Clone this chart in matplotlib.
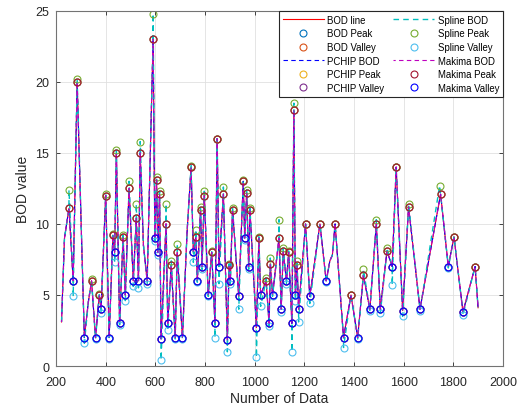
import numpy as np
import pandas as pd
import matplotlib
matplotlib.use("Agg")
import matplotlib.pyplot as plt

plt.rcParams["font.family"] = ["Liberation Sans", "DejaVu Sans"]

# BOD samples (index of data, BOD value)
bod_x = [222, 234, 252, 269, 285, 314, 330, 343, 359, 374, 381, 400, 414, 429,
         436, 443, 456, 470, 479, 494, 511, 523, 532, 539, 552, 567, 591, 598,
         605, 610, 617, 623, 643, 650, 664, 680, 688, 709, 728, 744, 753, 763,
         769, 782, 788, 797, 813, 827, 840, 849, 856, 874, 890, 897, 902, 911,
         936, 954, 960, 968, 976, 981, 1007, 1017, 1024, 1046, 1058, 1063, 1072,
         1098, 1107, 1115, 1128, 1137, 1150, 1158, 1164, 1171, 1177, 1205, 1222,
         1263, 1288, 1303, 1313, 1324, 1358, 1388, 1415, 1438, 1464, 1490, 1506,
         1533, 1554, 1570, 1596, 1620, 1666, 1749, 1780, 1803, 1839, 1888, 1900]
bod_y = [3.1, 9.0, 11.1, 6.0, 20.0, 2.0, 4.5, 6.0, 2.0, 5.0, 4.0, 12.0, 2.0, 9.2,
         8.0, 15.0, 3.0, 9.1, 5.0, 12.5, 6.0, 10.4, 6.0, 15.0, 8.5, 6.0, 23.0, 9.0,
         13.1, 8.0, 12.1, 1.9, 10.0, 3.0, 7.1, 2.0, 8.0, 2.0, 9.5, 14.0, 8.0, 9.1,
         6.0, 11.0, 7.0, 12.0, 5.0, 8.0, 3.0, 16.0, 7.0, 12.1, 1.8, 7.1, 6.0, 11.0,
         4.9, 13.0, 9.0, 12.2, 7.0, 11.0, 2.7, 9.0, 5.0, 6.0, 3.0, 7.2, 5.0,
         9.0, 4.0, 8.1, 6.0, 8.0, 3.0, 18.0, 5.0, 7.1, 4.0, 10.0, 4.9,
         10.0, 6.0, 7.4, 7.8, 10.0, 2.0, 5.0, 2.0, 6.4, 4.0, 10.0, 4.0,
         8.1, 7.0, 14.0, 3.9, 11.2, 4.0, 12.1, 7.0, 9.1, 3.8, 7.0, 4.1]

# extrema of the cubic spline fit
spline_peak_x = [252, 285, 343, 374, 400, 429, 443, 470, 494, 523, 539, 591, 605,
                 617, 643, 664, 688, 744, 763, 782, 797, 827, 849, 874, 897, 911,
                 954, 968, 981, 1017, 1046, 1063, 1098, 1115, 1137, 1158, 1171,
                 1205, 1263, 1324, 1388, 1438, 1490, 1533, 1570, 1620, 1745, 1803,
                 1888]
spline_peak_y = [12.4, 20.2, 6.1, 5.1, 12.1, 9.3, 15.2, 9.2, 13.0, 11.4, 15.8, 24.8,
                 13.3, 12.3, 11.4, 7.4, 8.6, 14.1, 9.6, 11.2, 12.3, 8.1, 16.0, 12.6,
                 7.2, 11.1, 13.1, 12.4, 11.1, 9.1, 6.2, 7.6, 10.3, 8.3, 8.1, 18.5,
                 7.4, 10.0, 10.0, 10.0, 5.0, 6.8, 10.3, 8.3, 14.0, 11.4, 12.7, 9.1,
                 7.0]
spline_valley_x = [269, 314, 359, 381, 414, 436, 456, 479, 511, 532, 567, 598, 610,
                   623, 650, 680, 709, 753, 769, 788, 813, 840, 856, 890, 902, 936,
                   960, 976, 1007, 1024, 1058, 1072, 1107, 1128, 1150, 1164, 1177,
                   1222, 1288, 1358, 1415, 1464, 1506, 1554, 1596, 1666, 1780, 1839]
spline_valley_y = [4.9, 1.6, 1.9, 3.7, 1.9, 7.3, 2.9, 4.6, 5.6, 5.5, 5.8, 8.8, 7.8,
                   0.4, 2.5, 1.9, 1.9, 7.3, 5.9, 6.8, 4.9, 2.0, 5.8, 1.0, 5.8, 4.0,
                   8.9, 6.8, 0.6, 4.2, 2.8, 4.9, 3.8, 5.8, 1.0, 4.6, 3.1,
                   4.4, 5.9, 1.3, 1.9, 3.9, 3.7, 5.7, 3.5, 3.9, 6.9, 3.6]

x = np.array(bod_x, dtype=float)
y = np.array(bod_y, dtype=float)

# local peaks / valleys of the BOD series (end points excluded)
mid = np.arange(1, len(y) - 1)
pk = mid[(y[mid] > y[mid - 1]) & (y[mid] > y[mid + 1])]
vl = mid[(y[mid] < y[mid - 1]) & (y[mid] < y[mid + 1])]

# spline curve runs through the samples and its own overshooting extrema
sp = pd.concat([
    pd.DataFrame({"x": x, "y": y}),
    pd.DataFrame({"x": spline_peak_x, "y": spline_peak_y}),
    pd.DataFrame({"x": spline_valley_x, "y": spline_valley_y}),
]).drop_duplicates().sort_values("x", kind="stable")

c_blue = (0, 0.447, 0.741)
c_orange = (0.85, 0.325, 0.098)
c_yellow = (0.929, 0.694, 0.125)
c_purple = (0.494, 0.184, 0.556)
c_green = (0.466, 0.674, 0.188)
c_lblue = (0.301, 0.745, 0.933)
c_dred = (0.635, 0.078, 0.184)
dark = (0.15, 0.15, 0.15)

mk = dict(linestyle="none", marker="o", markersize=5, markerfacecolor="none",
          markeredgewidth=0.8)
lw = 0.8

fig = plt.figure(figsize=(5.19, 4.14), dpi=100)
ax = fig.add_axes([0.108, 0.1135, 0.861, 0.858])

ax.plot(x, y, color="r", lw=lw, label="BOD line")
ax.plot(x[pk], y[pk], color=c_blue, label="BOD Peak", **mk)
ax.plot(x[vl], y[vl], color=c_orange, label="BOD Valley", **mk)
ax.plot(x, y, color="b", lw=lw, ls=(0, (4, 3)), label="PCHIP BOD")
ax.plot(x[pk], y[pk], color=c_yellow, label="PCHIP Peak", **mk)
ax.plot(x[vl], y[vl], color=c_purple, label="PCHIP Valley", **mk)
ax.plot(sp["x"], sp["y"], color="c", lw=lw + 0.2, ls=(0, (4, 3)), label="Spline BOD")
ax.plot(spline_peak_x, spline_peak_y, color=c_green, label="Spline Peak", **mk)
ax.plot(spline_valley_x, spline_valley_y, color=c_lblue, label="Spline Valley", **mk)
ax.plot(x, y, color="m", lw=lw, ls=(2, (4, 3)), label="Makima BOD")
ax.plot(x[pk], y[pk], color=c_dred, label="Makima Peak", **mk)
ax.plot(x[vl], y[vl], color="b", label="Makima Valley", **mk)

ax.set_xlim(200, 2000)
ax.set_ylim(0, 25)
ax.set_xticks(np.arange(200, 2001, 200))
ax.set_yticks(np.arange(0, 26, 5))
ax.grid(True, color=(0.88, 0.88, 0.88), lw=0.6)
ax.set_axisbelow(True)
ax.tick_params(direction="in", length=3, width=0.6, top=True, right=True,
               labelsize=9, colors=dark)
ax.tick_params(axis="x", pad=7)
ax.tick_params(axis="y", pad=5)
for s in ax.spines.values():
    s.set_color((0.45, 0.45, 0.45))
    s.set_linewidth(0.8)

ax.set_xlabel("Number of Data", fontsize=10, color=dark, labelpad=2)
ax.set_ylabel("BOD value", fontsize=10, color=dark, labelpad=4)

leg = ax.legend(ncol=2, loc="upper right", fontsize=6.9, borderaxespad=0,
                handlelength=4.3, handletextpad=0.35, columnspacing=0.9,
                labelspacing=0.38, fancybox=False, framealpha=1,
                edgecolor=dark, borderpad=0.4)
leg.get_frame().set_linewidth(0.8)

fig.savefig("out.png", dpi=100)
